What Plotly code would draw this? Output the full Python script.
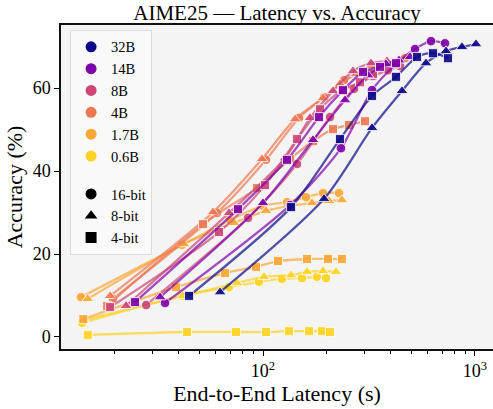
import plotly.graph_objects as go

# ---------------- data ----------------
models = ["32B", "14B", "8B", "4B", "1.7B", "0.6B"]
model_colors = ["#0d0887", "#7e03a8", "#cc4778", "#ec7853", "#fca636", "#fcd225"]
bits = ["16-bit", "8-bit", "4-bit"]
bit_symbols = ["circle", "triangle-up", "square"]

lat_06B_16 = [14.0, 41.5, 69.1, 95.8, 122.9, 152.7, 179.8, 198.2]
acc_06B_16 = [3.4, 9.9, 12.0, 13.3, 14.0, 14.2, 14.5, 14.2]
lat_06B_8 = [14.3, 41.9, 75.4, 101.1, 135.6, 161.3, 191.9, 221.0]
acc_06B_8 = [4.1, 9.9, 13.0, 14.5, 14.9, 15.7, 15.9, 15.7]
lat_06B_4 = [14.9, 43.8, 74.6, 103.3, 132.6, 164.8, 189.8, 207.0]
acc_06B_4 = [0.5, 1.2, 1.2, 1.2, 1.4, 1.4, 1.4, 1.2]

lat_17B_16 = [13.85, 41.5, 69.9, 100.0, 129.8, 159.6, 191.9, 228.3]
acc_17B_16 = [9.6, 22.2, 28.2, 31.6, 32.5, 33.7, 34.7, 34.7]
lat_17B_8 = [14.9, 42.4, 73.0, 103.3, 134.1, 170.3, 204.8, 235.8]
acc_17B_8 = [9.2, 22.4, 27.5, 30.4, 31.6, 32.3, 32.8, 33.0]
lat_17B_4 = [14.2, 38.9, 66.2, 92.7, 117.7, 161.3, 202.6, 235.8]
acc_17B_4 = [4.3, 12.0, 15.4, 16.9, 18.3, 18.8, 18.8, 18.8]

lat_4B_16 = [19.6, 60.7, 103.3, 147.9, 194.0, 241.1, 337.6, 467.5]
acc_4B_16 = [9.2, 29.9, 42.7, 52.8, 57.8, 61.9, 65.3, 67.2]
lat_4B_8 = [19.0, 58.1, 98.9, 141.6, 191.9, 230.8, 274.6, 323.2]
acc_4B_8 = [9.9, 30.1, 42.9, 52.5, 57.6, 61.0, 63.4, 65.3]
lat_4B_4 = [18.4, 52.1, 93.7, 134.1, 172.2, 213.9, 254.5, 302.8]
acc_4B_4 = [7.5, 27.2, 35.9, 42.9, 47.2, 50.1, 51.1, 52.0]

lat_8B_16 = [28.1, 85.0, 144.7, 207.0, 268.7, 330.3, 388.7, 442.9]
acc_8B_16 = [7.7, 28.7, 41.7, 53.0, 59.8, 62.9, 64.3, 65.3]
lat_8B_8 = [22.6, 69.1, 127.0, 166.6, 213.9, 265.8, 323.2, 384.5]
acc_8B_8 = [7.5, 29.9, 43.1, 52.8, 59.3, 64.1, 66.0, 66.5]
lat_8B_4 = [19.0, 62.0, 102.2, 144.7, 185.7, 235.8, 286.8, 330.3]
acc_8B_4 = [7.2, 25.3, 36.6, 47.7, 54.9, 59.5, 61.4, 63.4]

lat_14B_16 = [34.5, 134.1, 233.3, 326.8, 424.1, 521.2, 620.0, 722.0]
acc_14B_16 = [8.2, 31.8, 45.5, 59.5, 65.8, 69.4, 71.3, 70.8]
lat_14B_8 = [32.7, 100.0, 172.2, 243.7, 312.8, 380.4, 438.2, 493.6]
acc_14B_8 = [9.6, 32.3, 47.5, 57.1, 63.1, 65.8, 66.7, 67.5]
lat_14B_4 = [24.9, 76.2, 129.8, 183.7, 238.5, 296.3, 356.4, 424.1]
acc_14B_4 = [8.4, 30.8, 42.7, 53.0, 59.5, 63.9, 65.1, 66.0]

lat_32B_8 = [62.7, 194.0, 326.8, 452.6, 587.4, 729.8, 868.3, 1010.9]
acc_32B_8 = [10.8, 33.3, 50.4, 59.3, 66.0, 68.9, 69.9, 70.6]
lat_32B_4 = [44.8, 135.6, 230.8, 326.8, 424.1, 532.6, 633.7, 745.9]
acc_32B_4 = [9.9, 31.3, 47.7, 58.1, 62.7, 67.5, 68.4, 67.2]

x_tick_vals = [100, 1000]
x_tick_text = ["10<sup>2</sup>", "10<sup>3</sup>"]
x_minor_vals = [20, 30, 40, 50, 60, 70, 80, 90, 200, 300, 400, 500, 600, 700, 800, 900]
y_tick_vals = [0, 20, 40, 60]

# (model, bit, latency, accuracy) -- drawn smallest model first
series = [
    ("0.6B", "16-bit", lat_06B_16, acc_06B_16),
    ("0.6B", "8-bit", lat_06B_8, acc_06B_8),
    ("0.6B", "4-bit", lat_06B_4, acc_06B_4),
    ("1.7B", "16-bit", lat_17B_16, acc_17B_16),
    ("1.7B", "8-bit", lat_17B_8, acc_17B_8),
    ("1.7B", "4-bit", lat_17B_4, acc_17B_4),
    ("4B", "16-bit", lat_4B_16, acc_4B_16),
    ("4B", "8-bit", lat_4B_8, acc_4B_8),
    ("4B", "4-bit", lat_4B_4, acc_4B_4),
    ("8B", "16-bit", lat_8B_16, acc_8B_16),
    ("8B", "8-bit", lat_8B_8, acc_8B_8),
    ("8B", "4-bit", lat_8B_4, acc_8B_4),
    ("14B", "16-bit", lat_14B_16, acc_14B_16),
    ("14B", "8-bit", lat_14B_8, acc_14B_8),
    ("14B", "4-bit", lat_14B_4, acc_14B_4),
    ("32B", "8-bit", lat_32B_8, acc_32B_8),
    ("32B", "4-bit", lat_32B_4, acc_32B_4),
]


def rgba(hex_color, a):
    h = hex_color.lstrip("#")
    r, g, b = int(h[0:2], 16), int(h[2:4], 16), int(h[4:6], 16)
    return f"rgba({r},{g},{b},{a})"


symbol_size = {"circle": 9.5, "triangle-up": 10.5, "square": 9}

fig = go.Figure()
for model, bit, lat, acc in series:
    c = model_colors[models.index(model)]
    sym = bit_symbols[bits.index(bit)]
    fig.add_trace(go.Scatter(
        x=lat, y=acc, mode="lines+markers",
        line=dict(color=rgba(c, 0.7), width=2.3, shape="spline", smoothing=0.8),
        marker=dict(symbol=sym, size=symbol_size[sym], color=rgba(c, 0.92),
                    line=dict(color="white", width=0.8)),
        showlegend=False, hoverinfo="skip",
    ))

# legend entries
for m, c in zip(models, model_colors):
    fig.add_trace(go.Scatter(
        x=[None], y=[None], mode="markers", name=m, legendgroup="models",
        marker=dict(symbol="circle", size=11, color=c),
    ))
for b, s in zip(bits, bit_symbols):
    fig.add_trace(go.Scatter(
        x=[None], y=[None], mode="markers", name=b, legendgroup="bits",
        marker=dict(symbol=s, size=11, color="black"),
    ))

font_family = "Liberation Serif, Times New Roman, serif"

fig.update_layout(
    width=493, height=409, autosize=False,
    margin=dict(l=61, r=0, t=25, b=60, pad=0, autoexpand=False),
    paper_bgcolor="white", plot_bgcolor="#f4f4f4",
    font=dict(family=font_family, size=18, color="black"),
    title=dict(text="AIME25 — Latency vs. Accuracy", x=0.5, xref="paper",
               xanchor="center", y=1 - 13 / 409, yanchor="middle",
               font=dict(size=21, family=font_family, color="black")),
    legend=dict(x=0.021, y=0.985, xanchor="left", yanchor="top",
                bgcolor="rgba(249,249,249,0.9)", bordercolor="#dcdcdc", borderwidth=1,
                font=dict(size=14.5, family=font_family), traceorder="grouped",
                tracegroupgap=16, itemwidth=30),
)

fig.update_xaxes(
    type="log", range=[1.047, 3.085], automargin=False,
    tickmode="array", tickvals=x_tick_vals, ticktext=x_tick_text,
    ticks="outside", ticklen=5, tickwidth=1.2, tickcolor="black",
    showline=True, linecolor="#111", linewidth=1.5, mirror=True,
    showgrid=False, zeroline=False,
    tickfont=dict(size=18),
    minor=dict(tickmode="array", tickvals=x_minor_vals, ticks="outside",
               ticklen=3, tickwidth=0.8, tickcolor="black", showgrid=False),
    title=dict(text="End-to-End Latency (s)", font=dict(size=22), standoff=2),
)
fig.update_yaxes(
    range=[-2.9, 75.2], automargin=False,
    tickmode="array", tickvals=y_tick_vals,
    ticks="outside", ticklen=5, tickwidth=1.2, tickcolor="black",
    showline=True, linecolor="#111", linewidth=1.5, mirror=False,
    showgrid=False, zeroline=False,
    tickfont=dict(size=18),
    title=dict(text="Accuracy (%)", font=dict(size=22), standoff=4),
)

fig.write_html("out.html", config={"displayModeBar": False},
               post_script="document.body.style.margin='0';")
